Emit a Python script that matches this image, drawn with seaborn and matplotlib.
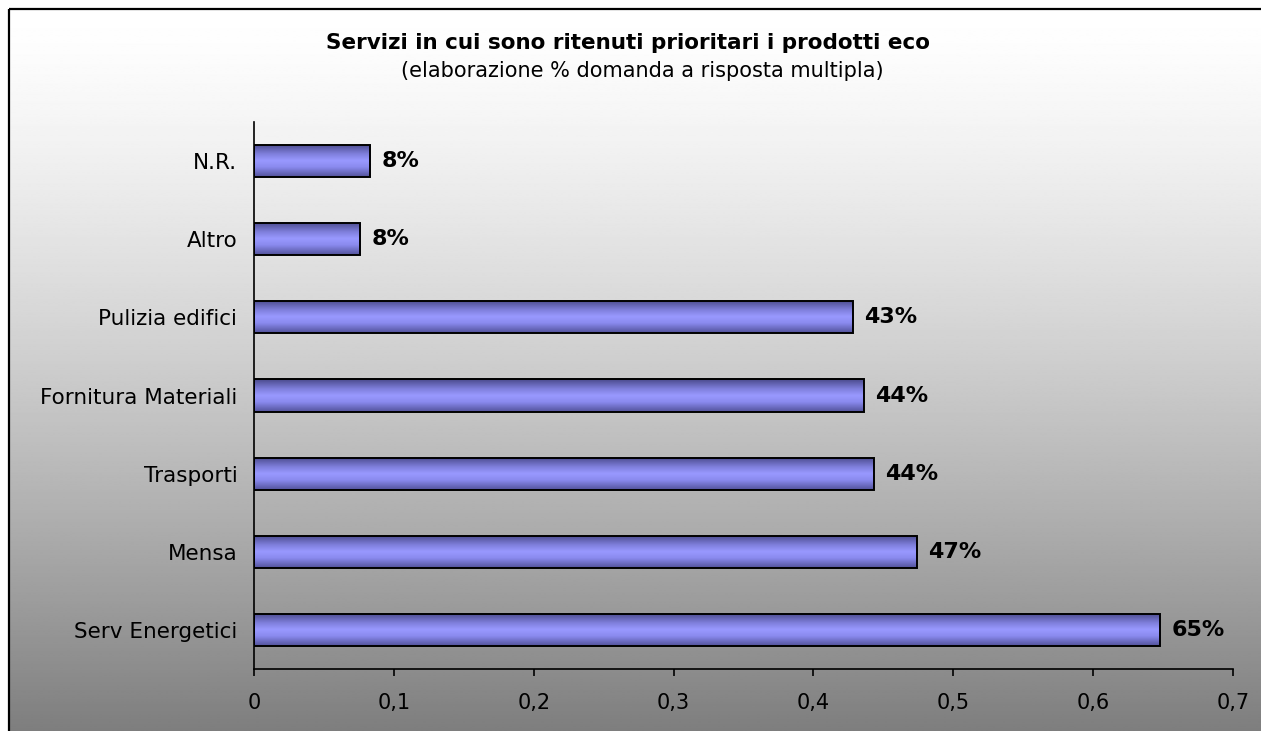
import numpy as np
import pandas as pd
import matplotlib
matplotlib.use("Agg")
import matplotlib.pyplot as plt
import seaborn as sns
from matplotlib.colors import LinearSegmentedColormap
from matplotlib.patches import Rectangle

# Data
categories = ["N.R.", "Altro", "Pulizia edifici", "Fornitura Materiali",
              "Trasporti", "Mensa", "Serv Energetici"]
values = [0.083, 0.076, 0.428, 0.436, 0.443, 0.474, 0.648]
value_labels = ["8%", "8%", "43%", "44%", "44%", "47%", "65%"]
x_ticks = [0, 0.1, 0.2, 0.3, 0.4, 0.5, 0.6, 0.7]
x_tick_labels = ["0", "0,1", "0,2", "0,3", "0,4", "0,5", "0,6", "0,7"]
title = "Servizi in cui sono ritenuti prioritari i prodotti eco"
subtitle = "(elaborazione % domanda a risposta multipla)"

df = pd.DataFrame({"servizio": categories, "quota": values})

sns.set_theme(style="white")
plt.rcParams["font.family"] = ["DejaVu Sans"]

W, H = 1261, 731
fig = plt.figure(figsize=(W / 100, H / 100), dpi=100)
fig.patch.set_facecolor("white")

# Background: vertical white-to-grey gradient inside a framed box
bg = fig.add_axes([0, 0, 1, 1], zorder=-10)
bg.set_xlim(0, W)
bg.set_ylim(H, 0)
bg.axis("off")
t = np.linspace(0, 1, 400)[:, None]
shade = 1.0 - (1.0 - 0.49) * t ** 1.35
grad = np.repeat(shade, 2, axis=1)
bg.imshow(grad, cmap="gray", vmin=0, vmax=1, aspect="auto",
          extent=(9, W + 5, H + 5, 9), interpolation="bilinear")
bg.add_patch(Rectangle((8.5, 8.5), W + 20, H + 20, fill=False,
                       edgecolor="black", linewidth=1.6))

ax = fig.add_axes([254 / W, 1 - 669 / H, (1233 - 254) / W, (669 - 122) / H])
ax.patch.set_alpha(0)

sns.barplot(data=df, x="quota", y="servizio", order=categories,
            orient="h", width=0.41, color="#9999ff",
            edgecolor="black", linewidth=1.4, ax=ax, zorder=3)

# Shaded fill of each bar: darker at the edges, light in the middle
bar_cmap = LinearSegmentedColormap.from_list(
    "bar", [(0.0, "#4a4a8c"), (0.3, "#8080dd"), (0.5, "#9999ff"),
            (0.7, "#8a8aee"), (1.0, "#52529a")])
bar_grad = np.linspace(0, 1, 100)[:, None]
for p in ax.patches:
    x0, y0 = p.get_x(), p.get_y()
    w, h = p.get_width(), p.get_height()
    im = ax.imshow(bar_grad, cmap=bar_cmap, aspect="auto",
                   extent=(x0, x0 + w, y0 + h, y0), zorder=2,
                   interpolation="bilinear")
    im.set_clip_path(p)
    p.set_facecolor("none")

ax.set_xlim(0, 0.7)
ax.set_ylim(len(categories) - 0.5, -0.5)

for i, (v, lab) in enumerate(zip(values, value_labels)):
    ax.annotate(lab, xy=(v, i), xytext=(8, 0), textcoords="offset points",
                ha="left", va="center", fontsize=16, fontweight="bold",
                color="black")

ax.set_xticks(x_ticks)
ax.set_xticklabels(x_tick_labels)
ax.tick_params(axis="x", direction="out", length=5, width=1.2,
               color="black", pad=12, labelsize=15, labelcolor="black",
               bottom=True)
ax.tick_params(axis="y", length=0, pad=12, labelsize=15.5, labelcolor="black")
ax.set_xlabel("")
ax.set_ylabel("")
for s in ["top", "right"]:
    ax.spines[s].set_visible(False)
for s in ["left", "bottom"]:
    ax.spines[s].set_color("black")
    ax.spines[s].set_linewidth(1.2)

fig.text(628 / W, 1 - 43 / H, title, ha="center", va="center",
         fontsize=15.5, fontweight="bold", color="black")
fig.text(642 / W, 1 - 71 / H, subtitle, ha="center", va="center",
         fontsize=15, color="black")

fig.savefig("out.png", dpi=100)
